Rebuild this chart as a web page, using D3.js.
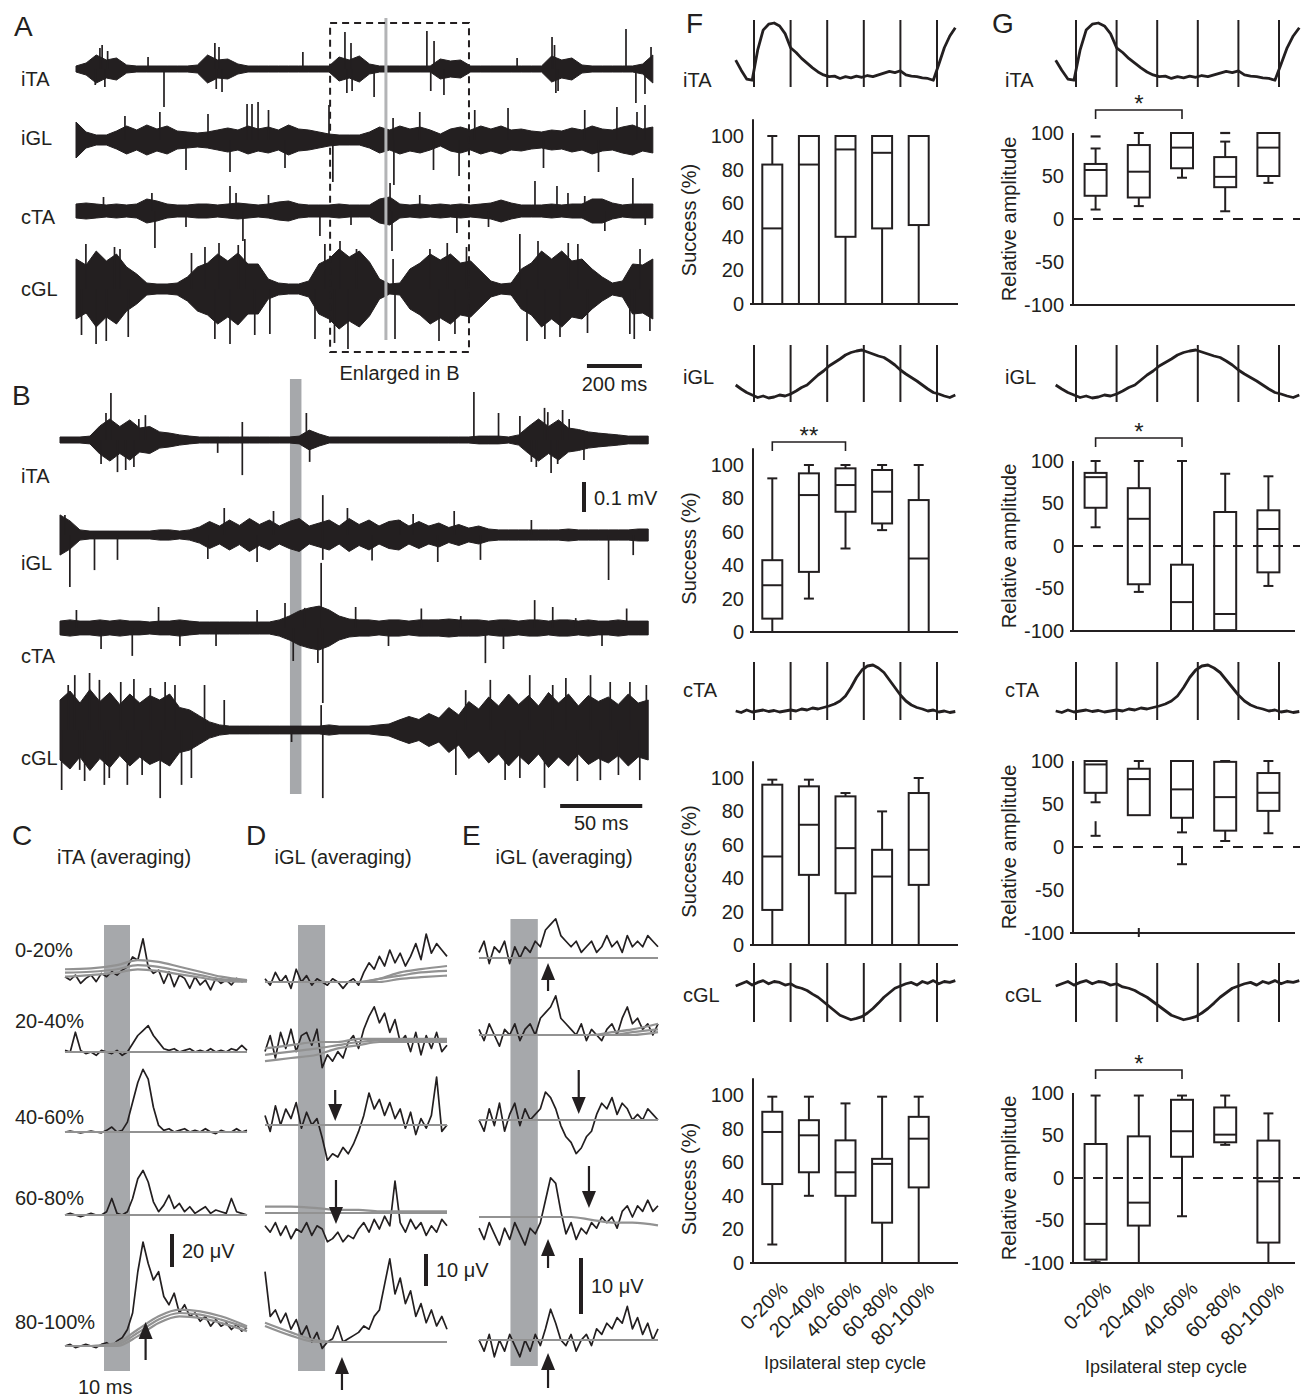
<!DOCTYPE html>
<html><head><meta charset="utf-8">
<script src="https://cdn.jsdelivr.net/npm/d3@7"></script>
<style>
body{margin:0;background:#fff;}
svg text{font-family:"Liberation Sans",Arial,sans-serif;fill:#231f20;}
</style></head><body>
<svg id="fig" width="1310" height="1397"></svg>
<script>
// ================= DATA =================
const categories = ["0-20%","20-40%","40-60%","60-80%","80-100%"];
const successTicks = [0,20,40,60,80,100];
const ampTicks = [-100,-50,0,50,100];
const muscles = ["iTA","iGL","cTA","cGL"];

// box stats: [lower whisker, q1, median, q3, upper whisker]
const successITA = [[0,0,45,83,100],[0,0,83,100,100],[0,40,92,100,100],[0,45,90,100,100],[0,47,100,100,100]];
const successIGL = [[0,8,28,43,92],[20,36,82,95,100],[50,72,88,98,100],[61,65,84,97,100],[0,0,44,79,100]];
const successCTA = [[0,21,53,96,99],[0,42,72,95,99],[0,31,58,89,91],[0,0,41,57,80],[0,36,57,91,100]];
const successCGL = [[11,47,78,90,99],[40,54,76,85,99],[0,40,54,73,95],[0,24,59,62,99],[0,45,74,87,99]];
const ampITA = [[11,27,57,64,82],[15,25,55,86,100],[48,59,83,100,100],[9,37,49,72,90],[42,50,83,100,100]];
const ampIGL = [[22,45,81,86,100],[-54,-45,32,68,100],[-100,-100,-66,-22,100],[-100,-99,-80,40,85],[-47,-31,20,42,82]];
const ampCTA = [[52,63,96,100,100],[37,37,79,91,100],[17,34,67,100,100],[7,19,58,99,100],[16,42,63,86,100]];
const ampCGL = [[-99,-96,-54,40,97],[-100,-56,-29,49,97],[-45,25,55,92,97],[39,42,51,83,97],[-100,-76,-4,44,76]];
const ampITAOutliers = [[0,96],[3,100]];
const ampCTAExtraWhiskers = [[0,30,13],[2,0,-20]];
const ampCTAMarks = [[1,-100]];
const sigSuccess = [{panel:1, from:0, to:2, label:"**"}];
const sigAmp = [{panel:0, from:0, to:2, label:"*"},{panel:1, from:0, to:2, label:"*"},{panel:3, from:0, to:2, label:"*"}];

// step-cycle averaged EMG (normalized) vs phase of ipsilateral step cycle
const cyclePhase = [-0.10,-0.07,-0.04,-0.01,0.02,0.05,0.08,0.11,0.14,0.17,0.20,0.23,0.26,0.29,0.32,0.35,0.38,0.41,0.44,0.47,0.50,0.53,0.56,0.59,0.62,0.65,0.68,0.71,0.74,0.77,0.80,0.83,0.86,0.89,0.92,0.95,0.98,1.01,1.04,1.07,1.10];
const cycleITA = [0.37,0.20,0.05,0.03,0.54,0.88,0.98,1.00,0.95,0.82,0.58,0.50,0.40,0.32,0.24,0.17,0.12,0.09,0.10,0.06,0.09,0.07,0.10,0.08,0.11,0.09,0.12,0.15,0.18,0.16,0.19,0.12,0.10,0.09,0.07,0.06,0.03,0.30,0.58,0.78,0.92];
const cycleIGL = [0.30,0.22,0.15,0.10,0.05,0.08,0.04,0.06,0.10,0.08,0.12,0.18,0.25,0.30,0.40,0.50,0.58,0.68,0.75,0.82,0.90,0.95,0.98,1.00,0.96,0.92,0.88,0.85,0.78,0.70,0.60,0.52,0.45,0.38,0.30,0.22,0.15,0.12,0.08,0.05,0.10];
const cycleCTA = [0.08,0.05,0.10,0.06,0.08,0.10,0.07,0.09,0.06,0.08,0.10,0.08,0.12,0.10,0.14,0.12,0.15,0.18,0.22,0.28,0.38,0.55,0.75,0.90,0.98,1.00,0.94,0.85,0.70,0.55,0.40,0.28,0.20,0.15,0.12,0.08,0.10,0.06,0.08,0.05,0.07];
const cycleCGL = [0.80,0.85,0.90,0.82,0.88,0.92,0.85,0.90,0.88,0.82,0.85,0.78,0.75,0.70,0.62,0.55,0.45,0.35,0.25,0.15,0.10,0.05,0.08,0.12,0.20,0.30,0.42,0.55,0.65,0.75,0.80,0.85,0.88,0.82,0.90,0.86,0.92,0.85,0.90,0.88,0.92];
const cycleBounds = [0,0.2,0.4,0.6,0.8,1.0];

// Panel A raw EMG: envelope (µV) per 36.8 ms bin, and prominent spikes [ms, µV]
const aBinMs = 36.8;
const aEnvITA = [15,30,70,45,55,20,15,15,15,15,15,15,20,70,45,50,25,15,15,15,15,15,15,15,15,15,60,45,65,25,15,15,15,15,15,15,50,40,45,15,15,15,15,15,15,15,15,65,45,55,20,15,15,15,15,15,25,70];
const aEnvIGL = [90,40,25,25,45,70,50,75,55,70,45,40,35,40,50,60,50,70,55,65,50,75,55,50,40,30,25,25,25,40,65,50,70,55,65,50,30,55,65,50,70,55,70,50,55,45,40,50,45,60,50,70,55,50,65,75,55,65];
const aEnvCTA = [35,40,35,30,35,30,35,60,50,35,30,30,35,35,30,35,40,35,30,35,45,50,35,30,30,30,35,30,30,30,60,70,35,30,35,30,35,30,35,30,35,40,55,40,30,30,30,35,30,35,35,60,60,40,30,35,35,35];
const aEnvCGL = [150,120,190,140,175,110,75,30,25,25,30,60,110,130,175,140,180,125,125,50,30,25,25,40,125,150,200,160,190,135,50,25,30,100,130,175,145,175,130,140,90,40,25,30,100,130,190,150,190,140,150,100,60,30,40,125,120,150];
const aSpikesITA = [[70,-80],[87,105],[95,120],[105,-90],[115,90],[262,60],[320,-190],[505,130],[510,-100],[520,110],[531,-115],[825,85],[978,185],[985,-120],[1000,130],[1004,-110],[1084,-140],[1276,190],[1290,-110],[1302,140],[1338,-130],[1604,55],[1731,160],[1740,120],[1745,-120],[1753,-110],[2000,200],[2036,-170],[2069,-125],[2091,110]];
const aSpikesIGL = [[178,120],[305,140],[400,-150],[480,130],[560,-160],[622,180],[640,180],[662,190],[700,150],[760,-140],[920,175],[934,-210],[1153,110],[1156,-225],[1250,140],[1300,-150],[1393,-180],[1450,150],[1571,160],[1700,-140],[1850,150],[1900,-160],[1967,165],[2040,140],[2069,175]];
const aSpikesCTA = [[100,70],[276,90],[287,-185],[400,-80],[560,125],[582,90],[607,-150],[700,80],[887,-125],[1000,-70],[1142,140],[1149,-200],[1250,80],[1385,-110],[1500,-80],[1669,150],[1749,125],[1789,90],[1850,75],[1923,-100],[2025,165],[2070,-70]];
const aSpikesCGL = [[20,-230],[36,225],[73,-275],[110,-260],[140,210],[160,200],[190,-240],[420,180],[469,210],[505,-250],[520,230],[560,-275],[590,220],[614,250],[650,-230],[705,-225],[869,-250],[905,225],[940,-270],[960,240],[989,-300],[1020,200],[1153,150],[1160,-250],[1287,200],[1320,-260],[1350,230],[1378,-225],[1420,210],[1614,275],[1640,-260],[1680,240],[1705,-250],[1760,-240],[1790,230],[1825,225],[1860,-220],[2014,-225],[2030,-250],[2051,200],[2087,-210]];
const aWindowMs = [924,1429];
const aStimMs = 1127;

// Panel B raw EMG (enlarged), envelope per 6.07 ms bin (µV) and spikes [ms, µV]
const bBinMs = 6.07;
const bEnvITA = [10,10,10,13,47,70,45,67,40,45,27,23,17,13,10,10,10,10,10,10,10,10,10,10,13,33,20,10,10,10,10,10,10,10,10,10,10,10,10,10,10,10,13,13,13,10,17,45,70,45,67,40,35,27,23,20,17,13,13,13];
const bEnvIGL = [67,47,17,13,13,13,13,13,13,13,17,17,13,17,27,45,30,50,32,55,35,50,30,45,55,30,40,50,30,55,35,50,30,45,50,30,45,30,40,25,35,23,30,20,17,17,17,17,17,17,17,20,17,17,17,17,17,17,20,20];
const bEnvCTA = [23,27,23,23,27,23,27,23,23,20,23,23,27,23,20,20,20,20,20,20,20,20,27,40,57,67,73,60,40,30,27,27,23,27,27,23,27,27,27,30,27,27,27,23,27,27,23,27,27,23,27,27,23,27,23,23,27,23,23,23];
const bEnvCGL = [100,130,90,135,95,125,85,120,90,115,100,120,75,67,47,27,17,13,13,13,13,13,13,13,13,13,13,17,13,13,13,13,17,20,33,45,35,55,40,75,50,95,70,110,80,120,85,115,80,125,90,120,80,115,95,110,85,120,90,100];
const bSpikesITA = [[25,-80],[28,90],[31,157],[35,-107],[40,-100],[45,-90],[48,70],[52,83],[96,-43],[111,-117],[111,60],[150,90],[152,-73],[252,160],[267,90],[280,80],[287,-73],[290,-90],[295,107],[297,93],[299,-110],[303,-80],[306,100],[310,70],[319,-67]];
const bSpikesIGL = [[3,67],[6,-173],[21,-117],[35,-83],[90,-80],[100,90],[120,-90],[130,80],[160,133],[160,-83],[175,90],[190,-85],[207,50],[215,70],[230,-90],[240,80],[256,-83],[287,50],[334,-150],[349,-67]];
const bSpikesCTA = [[10,60],[25,-70],[44,-93],[60,70],[73,-60],[95,-60],[120,60],[137,83],[142,-110],[149,67],[157,-117],[159,217],[160,-250],[180,70],[200,-60],[220,65],[244,40],[259,-117],[270,-70],[289,93],[300,70],[314,33],[330,-60],[345,65]];
const bSpikesCGL = [[1,-200],[5,150],[9,183],[12,-133],[15,-170],[18,190],[24,167],[27,-183],[30,-160],[37,160],[41,-183],[45,170],[50,-150],[55,140],[61,-227],[64,160],[70,150],[74,-183],[80,-160],[88,150],[100,100],[141,-40],[159,83],[160,-227],[241,-150],[247,133],[262,167],[271,-167],[280,-160],[286,183],[295,-193],[300,150],[308,173],[315,-170],[323,183],[329,-167],[335,160],[340,-150],[347,160],[353,-167],[357,150]];
const bStimMs = [140,147];

// Panels C-E: averaged responses (µV) by step-cycle bin
const phaseRows = ["0-20%","20-40%","40-60%","60-80%","80-100%"];
const avgTimeMs = [0,2,4,6,8,10,12,14,16,18,20,22,24,26,28,30,32,34,36,38,40,42,44,46,48,50,52,54,56,58,60,62,64,66,68,70];
const grayTimeMs = [0,10,20,28,36,44,52,60,70];
const cAvg = [
 [2,0,3,-2,1,3,-1,4,2,5,3,6,8,14,12,25,8,4,6,-2,5,-4,3,1,-5,2,-3,0,-6,1,-2,0,-3,1,-1,0],
 [1,0,12,1,-1,0,-2,1,0,-1,1,-2,0,5,10,13,16,10,6,2,1,2,0,1,2,0,1,0,2,0,1,0,2,1,4,1],
 [0,0.5,0,-0.5,0,0.5,0,-0.5,1,3,0,1,6,18,30,38,32,15,4,1,2,0,1,2,0,1,0,2,0,-1,1,0,0,2,0,1],
 [0,1,0,-1,0,1,0,0,2,10,1,0,2,10,22,27,20,8,2,6,12,4,7,2,5,1,3,5,1,3,2,1,10,2,1,0],
 [0,1,-1,0,1,0,-1,1,2,0,3,5,10,20,45,63,50,40,45,30,25,32,20,25,18,20,15,18,12,16,12,14,10,13,9,11]];
const cCtrl = [
 [[6.5,7,9,12,11,8,5,2,0],[4.5,5,6.5,9,8,5.5,3,0.5,-0.5],[2,3,4.5,6.5,5.5,3.5,1.5,-0.5,-1]],
 [[0,0,0,0,0,0,0,0,0]],
 [[0,0,0,0,0,0,0,0,0]],
 [[0,0,0,0,0,0,0,0,0]],
 [[0,0,2,10,18,22,21,18,12],[0,0,1,8,16,20,19,16,11],[0,0,0,6,14,18,17,14,9]]];
const dAvg = [
 [1,-1,3,0,2,-2,4,0,2,-1,1,0,-1,1,0,-2,0,1,-1,3,6,4,8,5,10,6,9,5,8,12,7,15,9,12,10,8],
 [-3,2,-5,3,-2,4,-3,2,3,-1,4,-8,-4,-6,-3,-5,0,2,-2,4,8,11,6,9,3,7,0,2,-3,3,-4,2,-2,3,-3,-1],
 [3,-2,6,0,5,2,7,-1,4,0,2,-4,-11,-9,-10,-7,-9,-6,-2,3,10,5,8,3,7,2,5,-1,4,-3,2,-1,3,15,-2,0],
 [-4,-6,-3,-7,-4,-8,-5,-6,-3,-7,-4,-5,-9,-8,-6,-9,-7,-8,-5,-3,-6,-2,-5,-1,-4,10,-3,-6,-2,-5,-3,-7,-4,-6,-2,-4],
 [22,8,10,6,9,4,7,2,5,0,3,-2,0,1,5,0,1,2,3,5,4,8,10,18,26,15,20,12,16,8,12,6,10,5,8,4]];
const dCtrl = [
 [[0,0,0,0,0,1,3,4,5],[0,0,0,0,0,1,2,3,3.5],[0,0,0,0,0,0,1,1.5,2]],
 [[-2,-1,0,0,1,1,1,1,1],[-4,-3,-2,-1,0,0.5,0.5,0.5,0.5],[-6,-5,-4,-2,-1,0,0,0,0]],
 [[0,0,0,0,0,0,0,0,0]],
 [[2,2,1.5,1,1,0.5,0.5,0.5,0.5],[0,0,0,0,0,0,0,0,0]],
 [[6,3,0.5,0,0,0,0,0,0],[5,2,0,0,0,0,0,0,0]]];
const eAvg = [
 [1,3,-1,2,1,3,-1,2,0,2,1,3,2,5,6,7,4,3,2,3,1,2,3,1,2,4,2,3,1,4,2,3,2,4,3,2],
 [1,-1,2,0,-2,1,0,2,-1,1,2,0,3,4,5,7,3,2,1,0,2,-1,1,0,-1,1,2,0,3,5,2,3,1,2,0,2],
 [0,-2,2,-1,3,-2,1,3,-1,2,0,1,2,5,4,2,-1,-3,-4,-6,-5,-3,-2,1,3,2,4,1,3,2,0,1,0,2,1,0],
 [-2,-4,-1,-3,-5,-2,-4,-1,-3,-5,-2,-3,-1,3,7,6,1,-3,-1,-4,-2,-3,-1,-2,0,-1,0,-2,1,2,0,2,1,3,1,2],
 [0,-2,1,-3,0,-2,1,-1,-3,0,-2,1,-1,2,5.5,3,0,-1,1,-2,0,1,-1,2,1,3,2,4,3,6,2,4,1,3,0,2]];
const eCtrl = [
 [[0,0,0,0,0,0,0,0,0]],
 [[0,0,0,0,0,0,0.5,1,2],[0,0,0,0,0,0,0,0.5,1],[0,0,0,0,0,0,0,0,0.5]],
 [[0,0,0,0,0,0,0,0,0]],
 [[0,0,0,0,0,-0.5,-1,-1,-1.5]],
 [[0,0,0,0,0,0,0,0,0]]];
const cStimMs = [15,25], dStimMs = [12.7,23.1], eStimMs = [12.3,23];
const cArrows = [{row:4,t:31}];
const dArrows = [{row:2,t:27},{row:3,t:27.3},{row:4,t:29.6}];
const eArrows = [{row:0,t:27},{row:2,t:39},{row:3,t:43},{row:3,t:27},{row:4,t:27}];

// ================= DRAWING =================
const ink = "#231f20", grayBar = "#a6a8ab", grayTrace = "#929292";
const FONT = '"Liberation Sans", Arial, sans-serif';
const svg = d3.select("#fig");
svg.append("rect").attr("width",1310).attr("height",1397).attr("fill","#fff");

function txt(x,y,s,size,anchor,tr){
  const t = svg.append("text").attr("x",x).attr("y",y).text(s)
    .attr("font-size",size).attr("text-anchor",anchor||"start");
  if (tr) t.attr("transform",tr);
  return t;
}
function ln(g,x1,y1,x2,y2,w,col,dash){
  const l = g.append("line").attr("x1",x1).attr("y1",y1).attr("x2",x2).attr("y2",y2)
    .attr("stroke",col||ink).attr("stroke-width",w||2);
  if (dash) l.attr("stroke-dasharray",dash);
  return l;
}

// ---------- raw EMG ----------
function drawEMG(g, env, binMs, spikes, x, amp, base){
  const pts = env.map((v,i)=>({t:i*binMs, v}));
  g.append("path").datum(pts)
    .attr("d", d3.area().x(d=>x(d.t)).y0(d=>base+amp(d.v)).y1(d=>base-amp(d.v)))
    .attr("fill",ink).attr("stroke",ink).attr("stroke-width",1);
  g.selectAll(null).data(spikes).join("line")
    .attr("x1",d=>x(d[0])).attr("x2",d=>x(d[0]))
    .attr("y1",base).attr("y2",d=>base-(d[1]>0?1:-1)*amp(Math.abs(d[1])))
    .attr("stroke",ink).attr("stroke-width",1.7);
}

// Panel A
const xA = d3.scaleLinear([0,2100],[76,653.5]);
const ampA = d3.scaleLinear([0,100],[0,20]);
const aBases = [69,140,211,289];
const gA = svg.append("g");
[[aEnvITA,aSpikesITA],[aEnvIGL,aSpikesIGL],[aEnvCTA,aSpikesCTA],[aEnvCGL,aSpikesCGL]].forEach((d,i)=>{
  drawEMG(gA, d[0], aBinMs, d[1], xA, ampA, aBases[i]);
});
ln(gA, xA(aStimMs), 18, xA(aStimMs), 340, 3, "#b3b4b6");
gA.append("rect").attr("x",xA(aWindowMs[0])).attr("y",23)
  .attr("width",xA(aWindowMs[1])-xA(aWindowMs[0])).attr("height",329)
  .attr("fill","none").attr("stroke",ink).attr("stroke-width",2).attr("stroke-dasharray","7,5");
txt(14,36,"A",28);
[86,145,224,296].forEach((y,i)=>txt(21,y,muscles[i],20));
txt(xA((aWindowMs[0]+aWindowMs[1])/2),380,"Enlarged in B",20,"middle");
ln(gA, xA(1858), 366, xA(2058), 366, 4);
txt(xA(1958),391,"200 ms",20,"middle");

// Panel B
const xB = d3.scaleLinear([0,358],[60,648]);
const ampB = d3.scaleLinear([0,100],[0,30]);
const bBases = [440,535,628,730];
const gB = svg.append("g");
gB.append("rect").attr("x",xB(bStimMs[0])).attr("y",379).attr("width",xB(bStimMs[1])-xB(bStimMs[0]))
  .attr("height",415).attr("fill",grayBar);
[[bEnvITA,bSpikesITA],[bEnvIGL,bSpikesIGL],[bEnvCTA,bSpikesCTA],[bEnvCGL,bSpikesCGL]].forEach((d,i)=>{
  drawEMG(gB, d[0], bBinMs, d[1], xB, ampB, bBases[i]);
});
txt(12,405,"B",28);
[483,570,663,765].forEach((y,i)=>txt(21,y,muscles[i],20));
ln(gB, 584, 512, 584, 512-ampB(100), 4);
txt(594,505,"0.1 mV",20);
ln(gB, xB(304.5), 806, xB(354.5), 806, 4);
txt(xB(329.5),830,"50 ms",20,"middle");

// Panels C-E
function drawAvgPanel(cfg){
  const g = svg.append("g");
  const x = d3.scaleLinear([0,70],[cfg.x0,cfg.x1]);
  const amp = d3.scaleLinear([0,10],[0,cfg.pxPer10]);
  g.append("rect").attr("x",x(cfg.stim[0])).attr("y",cfg.barY[0]).attr("width",x(cfg.stim[1])-x(cfg.stim[0]))
    .attr("height",cfg.barY[1]-cfg.barY[0]).attr("fill",grayBar);
  cfg.avg.forEach((row,r)=>{
    const base = cfg.bases[r];
    g.append("path").datum(row)
      .attr("d", d3.line().x((d,i)=>x(avgTimeMs[i])).y(d=>base-amp(d)))
      .attr("fill","none").attr("stroke",ink).attr("stroke-width",1.7).attr("stroke-linejoin","round");
    cfg.ctrl[r].forEach(gl=>{
      g.append("path").datum(gl)
        .attr("d", d3.line().x((d,i)=>x(grayTimeMs[i])).y(d=>base-amp(d)).curve(d3.curveMonotoneX))
        .attr("fill","none").attr("stroke",grayTrace).attr("stroke-width",2.2);
    });
  });
  cfg.arrows.forEach((a,k)=>{
    const base = cfg.bases[a.row];
    const ax = x(a.t);
    const off = cfg.arrowOff[k];
    const yTail = base+off[0], yTip = base+off[1];
    const dir = yTip > yTail ? 1 : -1;
    ln(g, ax, yTail, ax, yTip - dir*12, 2.2);
    g.append("path").attr("d",`M${ax},${yTip} L${ax-7},${yTip-dir*17} L${ax+7},${yTip-dir*17} Z`).attr("fill",ink);
  });
  ln(g, cfg.scaleX, cfg.scaleY, cfg.scaleX, cfg.scaleY - amp(cfg.scaleUv), 4);
  txt(cfg.scaleX+10, cfg.scaleY - amp(cfg.scaleUv)/2 + 7, cfg.scaleUv+" μV", 20);
}
drawAvgPanel({x0:65,x1:247,pxPer10:16.5,stim:cStimMs,barY:[925,1371],bases:[980,1052,1132,1215,1346],
  avg:cAvg,ctrl:cCtrl,arrows:cArrows,arrowOff:[[14,-24]],scaleX:172,scaleY:1267,scaleUv:20});
drawAvgPanel({x0:265,x1:447,pxPer10:32,stim:dStimMs,barY:[925,1371],bases:[982,1042,1125,1213,1342],
  avg:dAvg,ctrl:dCtrl,arrows:dArrows,arrowOff:[[-35,-4],[-33,11],[48,15]],scaleX:426,scaleY:1286,scaleUv:10});
drawAvgPanel({x0:479,x1:658,pxPer10:56,stim:eStimMs,barY:[919,1366],bases:[958,1035,1120,1217,1340],
  avg:eAvg,ctrl:eCtrl,arrows:eArrows,arrowOff:[[33,5],[-50,-6],[-51,-9],[51,22],[48,13]],scaleX:581,scaleY:1314,scaleUv:10});
txt(12,845,"C",28); txt(246,845,"D",28); txt(462,845,"E",28);
txt(124,864,"iTA (averaging)",20,"middle");
txt(343,864,"iGL (averaging)",20,"middle");
txt(564,864,"iGL (averaging)",20,"middle");
[957,1028,1124,1205,1329].forEach((y,i)=>txt(15,y,phaseRows[i],20));
txt(78,1394,"10 ms",20);

// ---------- Panels F & G ----------
const cycles = [cycleITA,cycleIGL,cycleCTA,cycleCGL];
const cycleY = [[82,23],[400,350],[715,665],[1022,977]];
const cycleLineY = [[20,87],[345,402],[662,720],[963,1022]];
const labelY = [87,384,697,1002];

function drawCycle(px, m){
  const g = svg.append("g");
  const yv = d3.scaleLinear([0,1], cycleY[m]);
  cycleBounds.forEach(b=>ln(g, px(b), cycleLineY[m][0], px(b), cycleLineY[m][1], 2));
  g.append("path").datum(cycles[m])
    .attr("d", d3.line().x((d,i)=>px(cyclePhase[i])).y(d=>yv(d)))
    .attr("fill","none").attr("stroke",ink).attr("stroke-width",2.8).attr("stroke-linejoin","round");
}

function drawBoxes(g, stats, xb, y, bw){
  const cap = 10;
  stats.forEach((s,i)=>{
    const cx = xb(categories[i]) + xb.bandwidth()/2;
    const [mn,q1,md,q3,mx] = s;
    if (mx > q3){ ln(g,cx,y(q3),cx,y(mx),2); ln(g,cx-cap/2,y(mx),cx+cap/2,y(mx),2); }
    if (mn < q1){ ln(g,cx,y(q1),cx,y(mn),2); ln(g,cx-cap/2,y(mn),cx+cap/2,y(mn),2); }
    g.append("rect").attr("x",cx-bw/2).attr("y",y(q3)).attr("width",bw).attr("height",Math.max(0,y(q1)-y(q3)))
      .attr("fill","none").attr("stroke",ink).attr("stroke-width",2);
    ln(g,cx-bw/2,y(md),cx+bw/2,y(md),2);
  });
}
function drawSig(g, sig, xb, y, topVal){
  const c0 = xb(categories[sig.from]) + xb.bandwidth()/2;
  const c1 = xb(categories[sig.to]) + xb.bandwidth()/2;
  const yb = y(topVal) - 23;
  g.append("path").attr("d",`M${c0},${yb+9} V${yb} H${c1} V${yb+9}`).attr("fill","none").attr("stroke",ink).attr("stroke-width",1.6);
  g.append("text").attr("x",(c0+c1)/2).attr("y",yb+2).attr("text-anchor","middle").attr("font-size",24).text(sig.label);
}
function styleAxis(ax){
  ax.attr("font-size",20).attr("font-family",FONT).attr("color",ink);
  ax.select(".domain").remove();
}

// F
const xF = d3.scaleBand(categories,[754,937]);
const pF = d3.scaleLinear([0,1],[754,937]);
const fY = [[304,136],[632,465],[945,778],[1263,1095]];
const fStats = [successITA,successIGL,successCTA,successCGL];
txt(686,33,"F",28);
fStats.forEach((st,m)=>{
  drawCycle(pF, m);
  txt(683,labelY[m],muscles[m],20);
  const g = svg.append("g");
  const y = d3.scaleLinear([0,100], fY[m]);
  ln(g,753,y(0),753,y(110),2);
  ln(g,750,y(0),958,y(0),2);
  const ax = g.append("g").attr("transform","translate(753,0)")
    .call(d3.axisLeft(y).tickValues(successTicks).tickFormat(d=>String(d)).tickSize(0).tickPadding(9));
  styleAxis(ax);
  drawBoxes(g, st, xF, y, 20);
  sigSuccess.filter(s=>s.panel===m).forEach(s=>drawSig(g,s,xF,y,100));
  txt(0,0,"Success (%)",20,"middle",`translate(696,${(y(0)+y(100))/2}) rotate(-90)`);
});

// G
const xG = d3.scaleBand(categories,[1074,1290]);
const pG = d3.scaleLinear([0,1],[1076,1279]);
const gY = [[305,133],[631,461],[933,761],[1263,1093]];
const gStats = [ampITA,ampIGL,ampCTA,ampCGL];
txt(992,33,"G",28);
gStats.forEach((st,m)=>{
  drawCycle(pG, m);
  txt(1005,labelY[m],muscles[m],20);
  const g = svg.append("g");
  const y = d3.scaleLinear([-100,100], gY[m]);
  ln(g,1073,y(0),1300,y(0),2,ink,"10,10");
  ln(g,1073,y(-100),1073,y(100),2);
  ln(g,1070,y(-100),1295,y(-100),2);
  const ax = g.append("g").attr("transform","translate(1073,0)")
    .call(d3.axisLeft(y).tickValues(ampTicks).tickFormat(d=>String(d)).tickSize(0).tickPadding(9));
  styleAxis(ax);
  drawBoxes(g, st, xG, y, 22);
  if (m===0) ampITAOutliers.forEach(o=>{
    const cx = xG(categories[o[0]]) + xG.bandwidth()/2; ln(g,cx-5,y(o[1]),cx+5,y(o[1]),2.2);
  });
  if (m===2){
    ampCTAExtraWhiskers.forEach(o=>{
      const cx = xG(categories[o[0]]) + xG.bandwidth()/2;
      ln(g,cx,y(o[1]),cx,y(o[2]),2); ln(g,cx-5,y(o[2]),cx+5,y(o[2]),2);
    });
    ampCTAMarks.forEach(o=>{
      const cx = xG(categories[o[0]]) + xG.bandwidth()/2; ln(g,cx,y(o[1])-5,cx,y(o[1])+4,2);
    });
  }
  sigAmp.filter(s=>s.panel===m).forEach(s=>drawSig(g,s,xG,y,100));
  txt(0,0,"Relative amplitude",20,"middle",`translate(1016,${(y(-100)+y(100))/2}) rotate(-90)`);
});

// category labels (bottom) and x titles
categories.forEach(c=>{
  const fx = xF(c)+xF.bandwidth()/2, gx = xG(c)+xG.bandwidth()/2;
  txt(0,0,c,20,"end",`translate(${fx+17},${1263+27}) rotate(-45)`);
  txt(0,0,c,20,"end",`translate(${gx+17},${1263+27}) rotate(-45)`);
});
txt(845,1369,"Ipsilateral step cycle",18,"middle");
txt(1166,1373,"Ipsilateral step cycle",18,"middle");
</script></body></html>
